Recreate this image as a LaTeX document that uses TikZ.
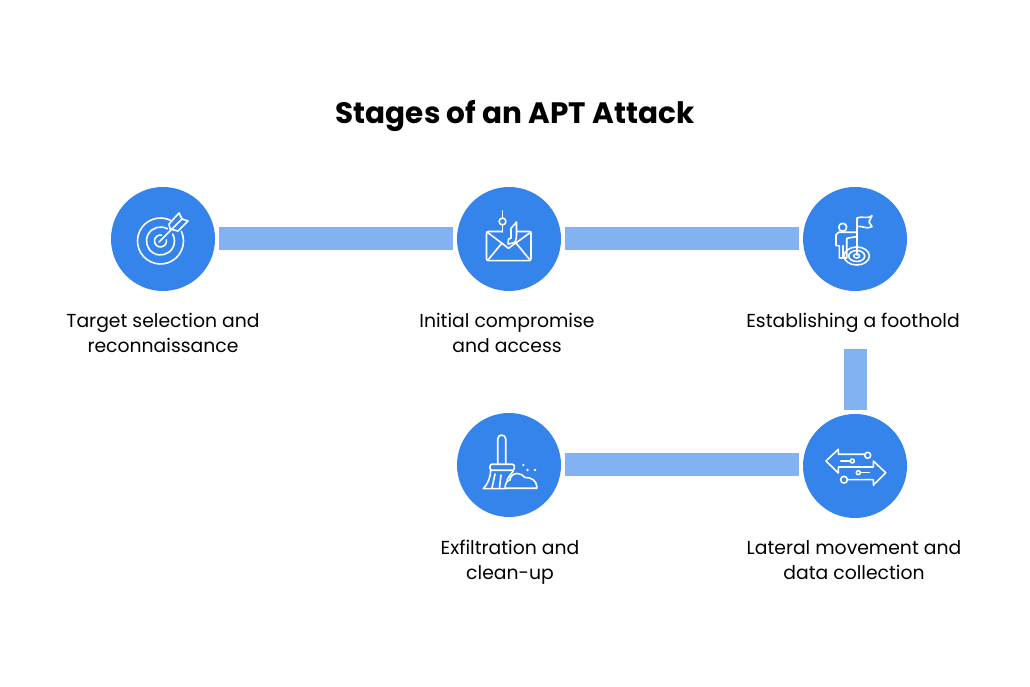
\documentclass[tikz,border=0pt]{standalone}
\usepackage{fontspec}
\setmainfont{Poppins}
\usetikzlibrary{calc}
\definecolor{stageblue}{HTML}{3584EC}
\definecolor{barblue}{HTML}{83B2F3}

\begin{document}
\begin{tikzpicture}
[x=1pt,y=1pt,
 stage/.style={circle,fill=stageblue,minimum size=104pt,inner sep=0pt,outer sep=0pt},
 bar/.style={barblue,line width=23pt,shorten <=4pt,shorten >=4pt,yshift=0.7pt},
 caption/.style={align=center,inner sep=0pt,text=black,font=\fontsize{18.8}{25}\selectfont},
 icon/.style={white,line width=1.6pt,line join=round,line cap=round}]

\useasboundingbox (0,0) rectangle (1030,687);

\node (title) at (515,571) [font=\fontsize{29.5}{34}\selectfont\bfseries,inner sep=0pt] {Stages of an APT Attack};

\node (target) at (163,448) [stage]{};
\node (access) at (509,448) [stage]{};
\node (foothold) at (855,448) [stage]{};
\node (lateral) at (855,221) [stage]{};
\node (cleanup) at (509,222) [stage]{};

\node (targetlabel) at (163,354.5) [caption]{Target selection and\\reconnaissance};
\node (accesslabel) at (507,354.5) [caption]{Initial compromise\\and access};
\node (footholdlabel) at (853,364) [caption]{Establishing a foothold};
\node (laterallabel) at (854,126.5) [caption]{Lateral movement and\\data collection};
\node (cleanuplabel) at (510,124.5) [caption]{Exfiltration and\\clean-up};

\draw[bar] (target) -- (access);
\draw[bar] (access) -- (foothold);
\draw[bar,shorten <=58pt] (foothold) -- (lateral);
\draw[bar] (lateral.west |- cleanup) -- (cleanup);

\begin{scope}[shift={(target.center)},icon]
\draw (-2.5,-2) ++(65:23) arc (65:385:23);
\draw (-2.5,-2) ++(60:14) arc (60:390:14);
\draw (-2.5,-2) ++(80:6) arc (80:370:6);
\draw (-4,-3) -- (19,20);
\draw (6,15) -- (16,26) -- (19,20) -- (25,18) -- (15,8) -- (7,10) -- cycle;
\end{scope}

\begin{scope}[shift={(access.center)},icon]
\draw[rounded corners=2pt] (-7,7.5) -- (-22.5,7.5) -- (-22.5,-21.7) -- (22,-21.7) -- (22,7.5) -- (8,7.5);
\draw (-22,7) -- (-0.5,-9.3) -- (22,7);
\draw (-21,-21) -- (-7,-4) (21,-21) -- (7,-4);
\draw (-6.5,28) -- (-6.5,21) (-6.5,14) -- (-6.5,7);
\draw (-6.5,17.5) circle (3.4);
\draw (7.5,17) -- (7.5,4) .. controls (7.5,-1) and (6,-4) .. (4,-4) -- (-1,-5) -- (-0.5,0) -- (2,0.7) -- (2,10.7) -- cycle;
\end{scope}

\begin{scope}[shift={(foothold.center)},icon]
\draw (-12.3,11.7) circle (4);
\draw (1,6.7) -- (-16.7,6.7) -- (-19,4) -- (-19,-6.7) -- (-15.7,-6.7) -- (-15.7,-19) -- (-8.3,-19) -- (-8.3,0.7) -- (1,2.3);
\draw (-12,-6.7) -- (-12,-19);
\draw (1.7,20.7) -- (1.7,-16);
\draw (1.7,20.7) .. controls (7,24) and (11,19) .. (17,23.3) -- (14,17) -- (17,12.3) .. controls (11,9) and (7,14) .. (1.7,12.3);
\draw (1.7,-17) ellipse (12.7 and 9);
\draw (1.7,-17) ellipse (8 and 5.5);
\draw (1.7,-17) ellipse (3 and 2);
\end{scope}

\begin{scope}[shift={(lateral.center)},icon]
\draw (9.7,11.7) -- (-16.7,11.7) -- (-16.7,16.7) -- (-29,5) -- (-16.7,-7) -- (-16.7,-1) -- (18.3,-1) -- (18.3,5) -- (30.7,-6.7) -- (18.3,-19.3) -- (18.3,-13.7) -- (-7.7,-13.7);
\draw (12.7,10.7) circle (3);
\draw (-11,-13.7) circle (3.4);
\draw (-14.3,5) -- (-4.7,5);
\draw (-2.7,5) circle (2);
\draw (14.3,-6.7) -- (5.3,-6.7);
\draw (3.3,-6.7) circle (2);
\end{scope}

\begin{scope}[shift={(cleanup.center)},icon]
\draw (-11.3,0.7) -- (-11.3,26) arc (180:0:4) -- (-3.3,0.7);
\draw[rounded corners=2pt] (-19,0.7) rectangle (5.3,-5.3);
\draw (-18.3,-5.3) .. controls (-18.5,-12) and (-21,-19) .. (-25.7,-23.7) -- (-4,-23.7);
\draw (4.3,-6) .. controls (1,-10) and (-1,-13) .. (-2,-15);
\draw (-14,-9) -- (-17,-23) (-8,-10) -- (-9.5,-23);
\draw (-4,-23.3) .. controls (-4,-19) and (-2,-15) .. (1,-15) .. controls (1,-11) and (5,-8.5) .. (8,-8.5) .. controls (11,-8.5) and (14,-10) .. (16,-12.5) .. controls (22,-12) and (27.7,-16) .. (27.7,-21) -- (27.7,-23.3) -- cycle;
\fill (14.3,0) circle (1.3) (18.5,-5) circle (1.3) (26,-5) circle (1.3);
\end{scope}
\end{tikzpicture}
\end{document}
